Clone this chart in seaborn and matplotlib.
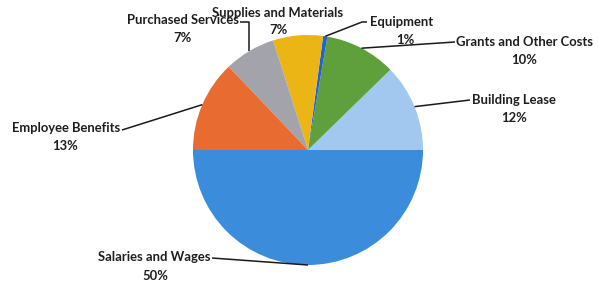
import numpy as np
import seaborn as sns
from matplotlib import pyplot as plt

# data, counter-clockwise from 3 o'clock
categories = ["Building Lease", "Grants and Other Costs", "Equipment", "Supplies and Materials",
              "Purchased Services", "Employee Benefits", "Salaries and Wages"]
shares = [12.3, 10.0, 0.6, 7.0, 7.2, 12.9, 50.0]
colors = ["#A3C8F0", "#5FA03C", "#1F64D0", "#EBB515", "#A3A3AB", "#E86C32", "#3B8DDC"]

W, H = 598, 284
CENTER = (308, 150)   # pixels, y measured from top
RADIUS = 115

# label layout in pixels (y from top): name centre, percent centre, leader end (None = no leader)
label_layout = {
    "Building Lease": ((514, 100), (514, 118), [(470, 100)]),
    "Grants and Other Costs": ((525, 42), (524, 60), [(455, 42)]),
    "Equipment": ((402, 22), (405, 40), [(362, 22), (367, 22)]),
    "Supplies and Materials": ((278, 13), (279, 30), None),
    "Purchased Services": ((183, 20), (183, 38), "elbow"),
    "Employee Benefits": ((66, 128), (65, 146), [(122, 130)]),
    "Salaries and Wages": ((154, 257), (155, 276), [(212, 258)]),
}


def py(y):
    return H - y


def main():
    sns.set_theme(style="white")
    plt.rcParams["font.family"] = ["Lato", "DejaVu Sans"]
    fig = plt.figure(figsize=(W / 100, H / 100), dpi=100)
    ax = fig.add_axes([0, 0, 1, 1])

    wedges, _ = ax.pie(shares, colors=colors, startangle=0, counterclock=True,
                       center=(CENTER[0], py(CENTER[1])), radius=RADIUS,
                       wedgeprops=dict(linewidth=0))
    ax.set_xlim(0, W)
    ax.set_ylim(0, H)
    ax.set_aspect("equal")
    ax.axis("off")

    text_kw = dict(ha="center", va="center", fontsize=9.4, fontweight="bold", color="#1e1e1e")
    for wedge, name, share in zip(wedges, categories, shares):
        name_pos, pct_pos, leader = label_layout[name]
        ax.text(name_pos[0], py(name_pos[1]), name, **text_kw)
        ax.text(pct_pos[0], py(pct_pos[1]), f"{share:.0f}%", **text_kw)
        if leader is None:
            continue
        mid = np.deg2rad((wedge.theta1 + wedge.theta2) / 2)
        ax_x = CENTER[0] + RADIUS * np.cos(mid)
        ax_y = CENTER[1] - RADIUS * np.sin(mid)
        if leader == "elbow":
            leader = [(ax_x, name_pos[1] + 2), (240, name_pos[1] + 2)]
        xs = [ax_x] + [p[0] for p in leader]
        ys = [py(ax_y)] + [py(p[1]) for p in leader]
        ax.plot(xs, ys, color="#1a1a1a", lw=1.1, solid_capstyle="butt")

    fig.savefig("out.png", dpi=100)


if __name__ == "__main__":
    main()
